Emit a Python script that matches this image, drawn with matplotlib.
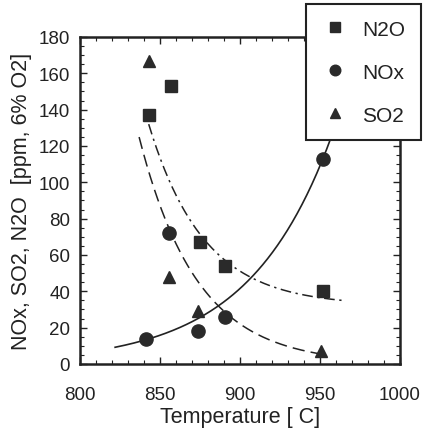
import numpy as np
import matplotlib
matplotlib.use('Agg')
import matplotlib.pyplot as plt
from matplotlib.ticker import MultipleLocator

plt.rcParams['font.family'] = ['Liberation Sans', 'DejaVu Sans']

# measured points
n2o_t = [843, 857, 875, 891, 952]
n2o_c = [137, 153, 67, 54, 40]
nox_t = [841, 856, 874, 891, 952]
nox_c = [14, 72, 18, 26, 113]
so2_t = [843, 856, 874, 951]
so2_c = [167, 48, 29, 7]

# trend curves: (t_start, t_end, offset, amplitude, rate, t_ref)
n2o_fit = (843, 966, 32.0, 100.0, -0.029, 843)
nox_fit = (822, 975, 0.0, 9.2, 0.0193, 822)
so2_fit = (837, 953, 0.0, 115.0, -0.0275, 840)


def trend(p):
    t0, t1, c, a, b, tr = p
    t = np.linspace(t0, t1, 200)
    return t, c + a * np.exp(b * (t - tr))


fs = 13.5
fl = 15.5
fig = plt.figure(figsize=(4.23, 4.39), dpi=100)
ax = fig.add_axes([0.189, 0.1686, 0.756, 0.745])

t, y = trend(n2o_fit)
ax.plot(t, y, color='#222222', lw=1.1, dashes=(7, 3, 1.5, 3))
t, y = trend(nox_fit)
ax.plot(t, y, color='#222222', lw=1.2, ls='-')
t, y = trend(so2_fit)
ax.plot(t, y, color='#222222', lw=1.1, dashes=(8, 4))

h1, = ax.plot(n2o_t, n2o_c, 's', color='#2a2a2a', ms=8.5, ls='none', label='N2O')
h2, = ax.plot(nox_t, nox_c, 'o', color='#2a2a2a', ms=9.5, ls='none', label='NOx')
h3, = ax.plot(so2_t, so2_c, '^', color='#2a2a2a', ms=9, ls='none', label='SO2')

ax.set_xlim(800, 1000)
ax.set_ylim(0, 180)
ax.xaxis.set_major_locator(MultipleLocator(50))
ax.xaxis.set_minor_locator(MultipleLocator(10))
ax.yaxis.set_major_locator(MultipleLocator(20))
ax.yaxis.set_minor_locator(MultipleLocator(5))
ax.tick_params(which='both', direction='in', top=True, right=True,
               labelsize=fs, colors='#222222')
ax.tick_params(axis='y', which='both', pad=7)
ax.tick_params(axis='x', which='both', pad=16)
ax.tick_params(which='major', length=5, width=1)
ax.tick_params(which='minor', length=3, width=0.8)
for s in ax.spines.values():
    s.set_linewidth(1.8)
    s.set_color('#222222')

ax.set_xlabel('Temperature [ C]', fontsize=fl, color='#222222', labelpad=2)
ax.set_ylabel('NOx, SO2, N2O  [ppm, 6% O2]', fontsize=fl, color='#222222', labelpad=5)

leg = fig.legend(handles=[h1, h2, h3], loc='upper right',
                 bbox_to_anchor=(421 / 423, 1 - 5 / 439), fontsize=15,
                 frameon=True, fancybox=False, framealpha=1, edgecolor='#222222',
                 borderpad=0.75, labelspacing=1.15, handletextpad=0.65,
                 handlelength=1.3, markerscale=0.8, borderaxespad=0)
leg.get_frame().set_linewidth(1.5)
for txt in leg.get_texts():
    txt.set_color('#222222')

fig.savefig('out.png', dpi=100)
